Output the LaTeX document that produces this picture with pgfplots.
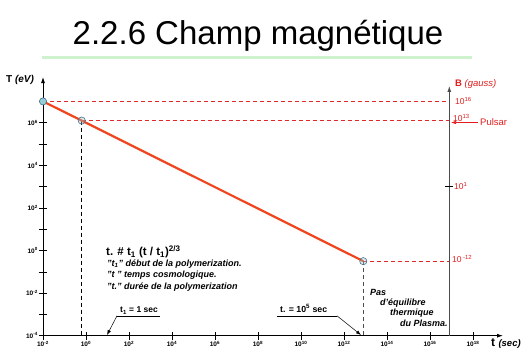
\documentclass[border=0pt]{standalone}
\usepackage{pgfplots}
\pgfplotsset{compat=1.18}
\usepackage{fontspec}
\setmainfont{Liberation Sans}
\usetikzlibrary{arrows.meta}
\definecolor{lineRed}{RGB}{240,68,28}
\definecolor{dashRed}{RGB}{228,40,40}
\definecolor{labRed}{RGB}{225,30,30}
\definecolor{titleGreen}{RGB}{205,242,205}
\definecolor{circEdge}{RGB}{70,110,140}
\definecolor{circFill}{RGB}{150,205,215}
\begin{document}
\begin{tikzpicture}
\path[use as bounding box] (0,0) rectangle (528pt,-353pt);
\begin{scope}[x=1pt,y=-1pt]
  \node[anchor=base, inner sep=0pt] at (258,45) {\fontsize{33}{38}\selectfont 2.2.6 Champ magnétique};
  \draw[titleGreen, line width=3pt] (42,57.5) -- (472,57.5);
\end{scope}
\begin{axis}[
  at={(43pt,-335.7pt)}, anchor=south west,
  scale only axis, width=460pt, height=258.7pt,
  xmode=log, ymode=log,
  xmin=1e-2, xmax=2.5e19, ymin=1e-4, ymax=1.4e8,
  axis lines=left,
  axis line style={black, line width=0.8pt, -{Latex[length=6pt,width=4pt]}},
  xtick={1e-2,1,1e2,1e4,1e6,1e8,1e10,1e12,1e14,1e16,1e18},
  xticklabels={10\textsuperscript{-2},10\textsuperscript{0},10\textsuperscript{2},10\textsuperscript{4},10\textsuperscript{6},10\textsuperscript{8},10\textsuperscript{10},10\textsuperscript{12},10\textsuperscript{14},10\textsuperscript{16},10\textsuperscript{18}},
  ytick={1e-4,1e-2,1,1e2,1e4,1e6},
  yticklabels={10\textsuperscript{-4},10\textsuperscript{-2},10\textsuperscript{0},10\textsuperscript{2},10\textsuperscript{4},10\textsuperscript{6}},
  minor xtick={},
  minor ytick={1e-3,1e-1,1e1,1e3,1e5,1e7},
  tick align=center, major tick length=8pt, minor tick length=8pt,
  tick style={black, line width=0.6pt},
  ticklabel style={font=\bfseries\fontsize{6.5}{7}\selectfont},
  xticklabel style={inner sep=1pt},
  yticklabel style={inner sep=1pt},
  clip=false,
]
% red dashed horizontals to the B axis
\addplot[dashRed, line width=0.8pt, dash pattern=on 4pt off 3pt] coordinates {(1e-2,1e7) (7.94e16,1e7)};
\addplot[dashRed, line width=0.8pt, dash pattern=on 4pt off 3pt] coordinates {(0.63,1.26e6) (7.94e16,1.26e6)};
\addplot[dashRed, line width=0.8pt, dash pattern=on 4pt off 3pt] coordinates {(7.94e12,0.316) (7.94e16,0.316)};
% black dashed verticals
\addplot[black, line width=1.2pt, dash pattern=on 4pt off 3pt] coordinates {(0.63,1.26e6) (0.63,1e-4)};
\addplot[black!70, line width=1.4pt, dash pattern=on 4pt off 3pt] coordinates {(7.94e12,0.316) (7.94e12,1e-4)};
% temperature line
\addplot[lineRed, line width=2.2pt] coordinates {(1e-2,1e7) (0.63,1.26e6) (7.94e12,0.316)};
% circles
\addplot[only marks, mark=*, mark size=3.6pt, mark options={draw=circEdge, fill=circFill, line width=0.6pt}] coordinates {(1e-2,1e7)};
\addplot[only marks, mark=*, mark size=3.6pt, mark options={draw=circEdge, fill=circFill, fill opacity=0.35, line width=0.6pt}] coordinates {(0.63,1.26e6) (7.94e12,0.316)};
\end{axis}
\begin{scope}[x=1pt,y=-1pt]
  % axis titles
  \node[anchor=base west, inner sep=0pt] at (6,82.5) {\fontsize{10}{11}\selectfont\bfseries T \itshape (eV)};
  \node[anchor=base west, inner sep=0pt] at (491,346.5) {\fontsize{12}{13}\selectfont\bfseries t \itshape\fontsize{9.5}{10}\selectfont (sec)};
  % B axis
  \draw[gray!60!black, line width=0.8pt, -{Latex[length=6pt,width=4pt]}] (449.3,336) -- (449.3,86);
  \draw[black, line width=0.6pt] (445,186.7) -- (453,186.7);
  \node[anchor=base west, inner sep=0pt, text=labRed] at (455,87) {\fontsize{9.5}{10}\selectfont\bfseries B \mdseries\itshape (gauss)};
  \node[anchor=base west, inner sep=0pt, text=labRed] at (455,104) {\fontsize{8.5}{9}\selectfont 10\textsuperscript{16}};
  \node[anchor=base west, inner sep=0pt, text=labRed] at (453,121.5) {\fontsize{8.5}{9}\selectfont 10\textsuperscript{13}};
  \node[anchor=base west, inner sep=0pt, text=labRed] at (454,189) {\fontsize{8.5}{9}\selectfont 10\textsuperscript{1}};
  \node[anchor=base west, inner sep=0pt, text=labRed] at (452,262) {\fontsize{8.5}{9}\selectfont 10\,\textsuperscript{-12}};
  % Pulsar
  \draw[labRed, line width=0.6pt, -{Latex[length=5pt,width=3.5pt]}] (478,122.5) -- (451,122.5);
  \node[anchor=base west, inner sep=0pt, text=labRed] at (480,125.5) {\fontsize{9.5}{10}\selectfont Pulsar};
  % formula and legend
  \node[anchor=base west, inner sep=0pt] at (106,255.7) {\fontsize{11.5}{13}\selectfont\bfseries t. \# t\textsubscript{1} (t / t\textsubscript{1})\textsuperscript{2/3}};
  \node[anchor=base west, inner sep=0pt] at (107,266) {\fontsize{9}{10}\selectfont\bfseries\itshape "t\textsubscript{1}" début de la polymerization.};
  \node[anchor=base west, inner sep=0pt] at (107,277.7) {\fontsize{9}{10}\selectfont\bfseries\itshape "t " temps cosmologique.};
  \node[anchor=base west, inner sep=0pt] at (107,289.3) {\fontsize{9}{10}\selectfont\bfseries\itshape "t." durée de la polymerization};
  % t1 = 1 sec
  \node[anchor=base west, inner sep=0pt] at (120,312.7) {\fontsize{8.5}{9}\selectfont\bfseries t\textsubscript{1} = 1 sec};
  \draw[black, line width=0.5pt] (160,315.8) -- (117,315.8);
  \draw[black, line width=0.5pt, -{Latex[length=5pt,width=3.5pt]}] (117,315.8) -- (107,335);
  % t. = 10^5 sec
  \node[anchor=base west, inner sep=0pt] at (280,312.7) {\fontsize{8.8}{9}\selectfont\bfseries t. = 10\textsuperscript{5} sec};
  \draw[black, line width=0.5pt] (277,315.8) -- (337,315.8);
  \draw[black, line width=0.5pt, -{Latex[length=5pt,width=3.5pt]}] (337,315.8) -- (361,335);
  % Pas d'equilibre
  \node[anchor=base west, inner sep=0pt] at (370,295) {\fontsize{9}{10}\selectfont\bfseries\itshape Pas};
  \node[anchor=base west, inner sep=0pt] at (380,305) {\fontsize{9}{10}\selectfont\bfseries\itshape d'équilibre};
  \node[anchor=base west, inner sep=0pt] at (390,315.5) {\fontsize{9}{10}\selectfont\bfseries\itshape thermique};
  \node[anchor=base west, inner sep=0pt] at (400,326) {\fontsize{9}{10}\selectfont\bfseries\itshape du Plasma.};
\end{scope}
\end{tikzpicture}
\end{document}
